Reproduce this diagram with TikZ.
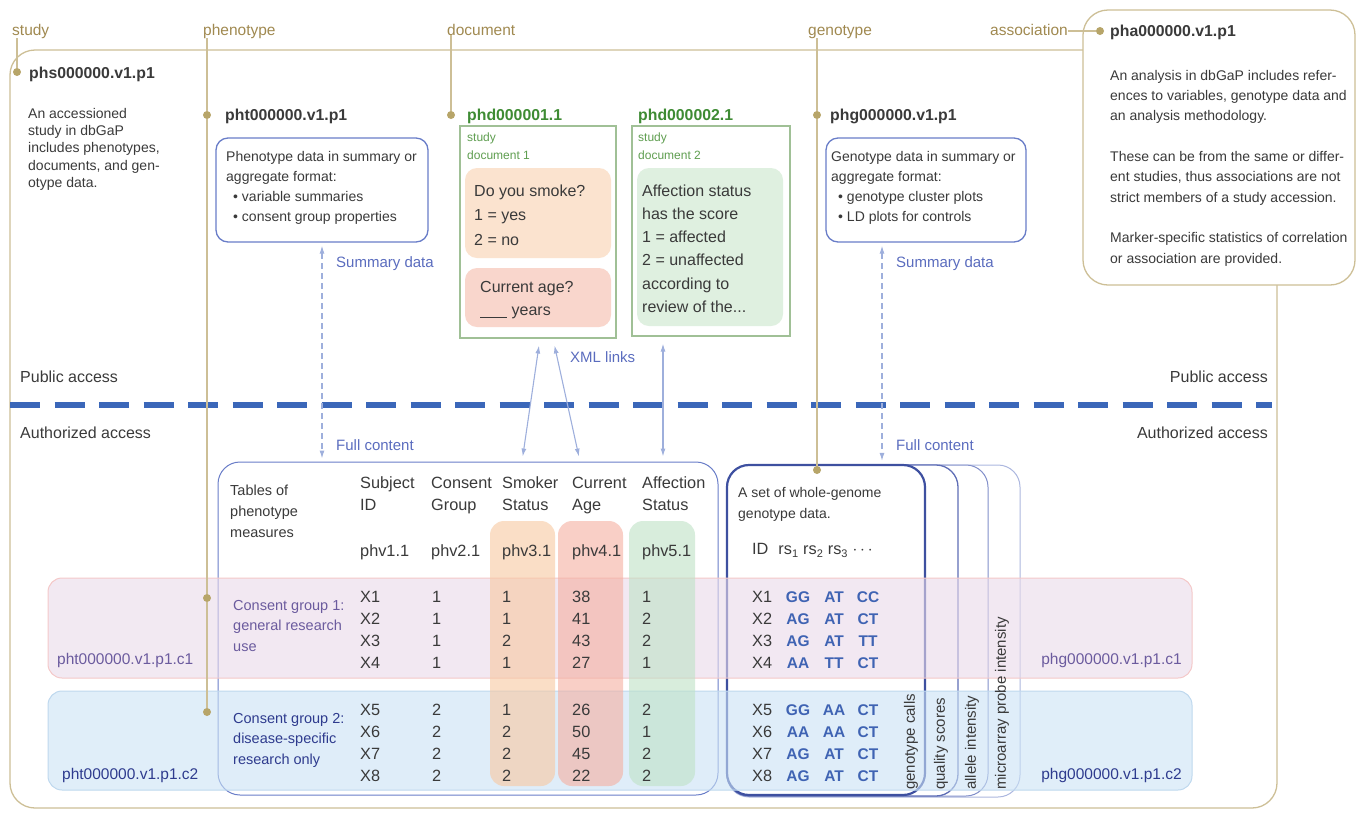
\documentclass[tikz,border=0pt]{standalone}
\usepackage{fontspec}
\setmainfont{Liberation Sans}
\usepackage{tikz}
\usetikzlibrary{shapes,arrows,fit,positioning,arrows.meta}
\usetikzlibrary{backgrounds}

\definecolor{goldline}{RGB}{205,191,150}
\definecolor{golddot}{RGB}{183,165,105}
\definecolor{goldtext}{RGB}{160,137,80}
\definecolor{bodytext}{RGB}{58,58,58}
\definecolor{boxblue}{RGB}{105,125,200}
\definecolor{arrowblue}{RGB}{158,175,220}
\definecolor{labelblue}{RGB}{90,108,190}
\definecolor{sepblue}{RGB}{59,103,185}
\definecolor{docgreen}{RGB}{160,192,150}
\definecolor{docid}{RGB}{62,139,51}
\definecolor{docnote}{RGB}{95,158,80}
\definecolor{smokefill}{RGB}{251,227,207}
\definecolor{agefill}{RGB}{249,214,204}
\definecolor{afffill}{RGB}{223,240,224}
\definecolor{cg1fill}{RGB}{234,218,234}
\definecolor{cg1line}{RGB}{244,200,200}
\definecolor{cg2fill}{RGB}{203,226,245}
\definecolor{cg2line}{RGB}{190,216,238}
\definecolor{cg1text}{RGB}{107,91,158}
\definecolor{cg2text}{RGB}{46,59,142}
\definecolor{smokeband}{RGB}{248,200,160}
\definecolor{ageband}{RGB}{245,175,160}
\definecolor{affband}{RGB}{190,226,198}
\definecolor{genoblue}{RGB}{63,99,179}
\definecolor{callsline}{RGB}{62,80,160}
\definecolor{qualline}{RGB}{95,110,182}
\definecolor{alleleline}{RGB}{130,143,202}
\definecolor{probeline}{RGB}{172,183,223}

\begin{document}
\begin{tikzpicture}[x=1pt, y=-1pt]
	\tikzstyle{frame_style}=[rectangle, draw=goldline, line width=1.3pt, rounded corners=25pt]
	\tikzstyle{label_style}=[font=\fontsize{15.5}{18}\selectfont, text=goldtext, anchor=base west, inner sep=0pt]
	\tikzstyle{id_style}=[font=\fontsize{15.8}{18}\selectfont\bfseries, text=bodytext, anchor=base west, inner sep=0pt]
	\tikzstyle{text_style}=[font=\fontsize{14}{17.4}\selectfont, text=bodytext, anchor=base west, align=left, inner sep=0pt]
	\tikzstyle{dot_style}=[circle, fill=golddot, inner sep=0pt, minimum size=8pt]
	\tikzstyle{gold_line}=[draw=goldline, line width=1.3pt]
	\tikzstyle{summary_style}=[rectangle, draw=boxblue, line width=1.3pt, rounded corners=12pt, fill=white]
	\tikzstyle{doc_style}=[rectangle, draw=docgreen, line width=1.2pt, fill=white]
	\tikzstyle{qbox_style}=[rectangle, rounded corners=12pt, minimum width=146pt]
	\tikzstyle{doc_text_style}=[font=\fontsize{16}{23.6}\selectfont, text=bodytext, anchor=base west, align=left, inner sep=0pt]
	\tikzstyle{doc_note_style}=[font=\fontsize{12}{18}\selectfont, text=docnote, anchor=base west, align=left, inner sep=0pt]
	\tikzstyle{table_style}=[rectangle, draw=boxblue, line width=1pt, rounded corners=22pt, fill=white]
	\tikzstyle{band_style}=[rectangle, rounded corners=14pt, fill opacity=0.6, line width=1pt]
	\tikzstyle{cell_style}=[font=\fontsize{16.3}{22.6}\selectfont, text=bodytext, anchor=base west, align=left, inner sep=0pt]
	\tikzstyle{geno_style}=[font=\fontsize{15.5}{18}\selectfont\bfseries, text=genoblue, anchor=base, inner sep=0pt]
	\tikzstyle{blue_label}=[font=\fontsize{15}{18}\selectfont, text=labelblue, anchor=base west, inner sep=0pt]
	\tikzstyle{access_style}=[font=\fontsize{16}{18}\selectfont, text=bodytext, inner sep=0pt]
	\tikzstyle{vert_style}=[font=\fontsize{15}{18}\selectfont, text=bodytext, rotate=90, anchor=west, inner sep=0pt]
	\tikzstyle{link_style}=[draw=arrowblue, line width=1.1pt, {Latex[length=8pt,width=5pt]}-{Latex[length=8pt,width=5pt]}]
	\tikzstyle{dash_link_style}=[link_style, dash pattern=on 6pt off 4pt]
	\tikzstyle{sep_style}=[draw=sepblue, line width=6.5pt, dash pattern=on 30pt off 14.5pt]

	\useasboundingbox (0,0) rectangle (1358,815);

	% study frame and association
	\node at (643.5,429) [frame_style, minimum width=1267pt, minimum height=758pt] (study_frame) {};
	\node at (1219,147.5) [frame_style, fill=white, minimum width=272pt, minimum height=275pt] (assoc_box) {};

	% public / authorized
	\draw[sep_style] (10,405) -- (1272,405);

	% summary boxes
	\node at (322,190) [summary_style, minimum width=212pt, minimum height=104pt] (pht_box) {};
	\node at (926,190) [summary_style, minimum width=200pt, minimum height=104pt] (phg_box) {};

	% documents
	\node at (538,232) [doc_style, minimum width=156pt, minimum height=212pt] (doc_1) {};
	\node at (711,231) [doc_style, minimum width=158pt, minimum height=210pt] (doc_2) {};
	\node at (538,213) [qbox_style, fill=smokefill, minimum height=90pt] (smoke_box) {};
	\node at (538,297.5) [qbox_style, fill=agefill, minimum height=59pt] (age_box) {};
	\node at (710,247) [qbox_style, fill=afffill, minimum height=158pt] (aff_box) {};

	% tables
	\node at (468,628.5) [table_style, minimum width=500pt, minimum height=333pt] (tab_box) {};
	\node at (873.5,631) [table_style, draw=probeline, minimum width=293pt, minimum height=332pt] (geno_probe) {};
	\node at (857.5,630.5) [table_style, draw=alleleline, minimum width=261pt, minimum height=331pt] (geno_allele) {};
	\node at (842.5,630.5) [table_style, draw=qualline, line width=1.3pt, minimum width=231pt, minimum height=331pt] (geno_quality) {};
	\node at (826,630) [table_style, draw=callsline, line width=2.2pt, minimum width=198pt, minimum height=330pt] (geno_calls) {};

	% consent groups and variables
	\node at (620,628) [band_style, fill=cg1fill, draw=cg1line, minimum width=1144pt, minimum height=100pt] (band_c1) {};
	\node at (620,740.5) [band_style, fill=cg2fill, draw=cg2line, minimum width=1144pt, minimum height=99pt] (band_c2) {};
	\node at (522.5,653.5) [band_style, fill=smokeband, minimum width=65pt, minimum height=265pt] (band_smoke) {};
	\node at (590.5,653.5) [band_style, fill=ageband, minimum width=65pt, minimum height=265pt] (band_age) {};
	\node at (662,653.5) [band_style, fill=affband, minimum width=66pt, minimum height=265pt] (band_aff) {};

	% dots
	\node at (17,72) [dot_style] (dot_phs) {};
	\node at (207,115) [dot_style] (dot_pht) {};
	\node at (207,598) [dot_style] (dot_pht_c1) {};
	\node at (207,712) [dot_style] (dot_pht_c2) {};
	\node at (451,115) [dot_style] (dot_phd) {};
	\node at (817,115) [dot_style] (dot_phg) {};
	\node at (817,470) [dot_style] (dot_phg_geno) {};
	\node at (1100,31) [dot_style] (dot_pha) {};

	% accession types
	\node at (12,35) [label_style] (lbl_study) {study};
	\node at (203,35) [label_style] (lbl_phenotype) {phenotype};
	\node at (447,35) [label_style] (lbl_document) {document};
	\node at (808,35) [label_style] (lbl_genotype) {genotype};
	\node at (990,35) [label_style] (lbl_association) {association};

	\draw[gold_line] (lbl_study.south -| dot_phs) -- (dot_phs);
	\draw[gold_line] (lbl_phenotype.south -| dot_pht) -- (dot_pht) -- (dot_pht_c1) -- (dot_pht_c2);
	\draw[gold_line] (lbl_document.south -| dot_phd) -- (dot_phd);
	\draw[gold_line] (lbl_genotype.south -| dot_phg) -- (dot_phg) -- (dot_phg_geno);
	\draw[gold_line] (dot_pha -| lbl_association.east) -- (dot_pha);

	% study (multi-line nodes sit on their last baseline)
	\node at (29,78) [id_style] (id_phs) {phs000000.v1.p1};
	\node at (28,187.6) [text_style] (phs_text) {An accessioned\\study in dbGaP\\includes phenotypes,\\documents, and gen-\\otype data.};

	% phenotype
	\node at (225,120) [id_style] (id_pht) {pht000000.v1.p1};
	\node at (226,221) [text_style, font=\fontsize{14}{20}\selectfont] (pht_text) {Phenotype data in summary or\\aggregate format:\\\hspace*{7pt}\textbullet\ variable summaries\\\hspace*{7pt}\textbullet\ consent group properties};

	% documents
	\node at (467,120) [id_style, text=docid] (id_phd_1) {phd000001.1};
	\node at (638,120) [id_style, text=docid] (id_phd_2) {phd000002.1};
	\node at (467,159) [doc_note_style] (doc_1_note) {study\\document 1};
	\node at (638,159) [doc_note_style] (doc_2_note) {study\\document 2};
	\node at (474,245) [doc_text_style, font=\fontsize{16}{24.5}\selectfont] (smoke_text) {Do you smoke?\\1 = yes\\2 = no};
	\node at (480,315.6) [doc_text_style] (age_text) {Current age?\\\rule[-2pt]{27pt}{0.7pt} years};
	\node at (642,312.5) [doc_text_style, font=\fontsize{16}{23.3}\selectfont] (aff_text) {Affection status\\has the score\\1 = affected\\2 = unaffected\\according to\\review of the...};

	% genotype
	\node at (830,120) [id_style] (id_phg) {phg000000.v1.p1};
	\node at (831,221) [text_style, font=\fontsize{14}{20}\selectfont] (phg_text) {Genotype data in summary or\\aggregate format:\\\hspace*{7pt}\textbullet\ genotype cluster plots\\\hspace*{7pt}\textbullet\ LD plots for controls};

	% association
	\node at (1110,36) [id_style] (id_pha) {pha000000.v1.p1};
	\node at (1110,263) [text_style, font=\fontsize{14}{20.3}\selectfont] (pha_text) {An analysis in dbGaP includes refer-\\ences to variables, genotype data and\\an analysis methodology.\\[20.3pt]These can be from the same or differ-\\ent studies, thus associations are not\\strict members of a study accession.\\[20.3pt]Marker-specific statistics of correlation\\or association are provided.};

	% access
	\node at (20,382) [access_style, anchor=base west] (public_l) {Public access};
	\node at (1268,382) [access_style, anchor=base east] (public_r) {Public access};
	\node at (20,438) [access_style, anchor=base west] (auth_l) {Authorized access};
	\node at (1268,438) [access_style, anchor=base east] (auth_r) {Authorized access};

	% phenotype table
	\node at (230,537) [text_style, font=\fontsize{14.5}{21}\selectfont] (tab_title) {Tables of\\phenotype\\measures};
	\foreach \x/\name/\head/\var in {360/subj/{Subject\\ID}/phv1.1, 431/cons/{Consent\\Group}/phv2.1, 502/smoke/{Smoker\\Status}/phv3.1, 572/age/{Current\\Age}/phv4.1, 642/aff/{Affection\\Status}/phv5.1} {
		\node at (\x,510.6) [cell_style] (head_\name) {\head};
		\node at (\x,556) [cell_style] (var_\name) {\var};
	}
	\foreach \y/\id/\cg/\sm/\ag/\af in {602/X1/1/1/38/1, 624/X2/1/1/41/2, 646/X3/1/2/43/2, 668/X4/1/1/27/1, 715/X5/2/1/26/2, 737/X6/2/2/50/1, 759/X7/2/2/45/2, 781/X8/2/2/22/2} {
		\node at (360,\y) [cell_style] (cell_\id_subj) {\id};
		\node at (432,\y) [cell_style] (cell_\id_cons) {\cg};
		\node at (502,\y) [cell_style] (cell_\id_smoke) {\sm};
		\node at (572,\y) [cell_style] (cell_\id_age) {\ag};
		\node at (642,\y) [cell_style] (cell_\id_aff) {\af};
	}
	\node at (233,651) [text_style, font=\fontsize{14.5}{20.5}\selectfont, text=cg1text] (cg1_text) {Consent group 1:\\general research\\use};
	\node at (233,764) [text_style, font=\fontsize{14.5}{20.5}\selectfont, text=cg2text] (cg2_text) {Consent group 2:\\disease-specific\\research only};
	\node at (57,664) [blue_label, font=\fontsize{15.5}{18}\selectfont, text=cg1text] (pht_c1) {pht000000.v1.p1.c1};
	\node at (62,779) [blue_label, font=\fontsize{15.5}{18}\selectfont, text=cg2text] (pht_c2) {pht000000.v1.p1.c2};

	% genotype table
	\node at (738,518) [text_style, font=\fontsize{14}{21}\selectfont] (geno_title) {A set of whole-genome\\genotype data.};
	\node at (752,554) [cell_style] (geno_head) {ID\hspace{10pt}rs\raisebox{-3pt}{\fontsize{11}{11}\selectfont 1}\hspace{5pt}rs\raisebox{-3pt}{\fontsize{11}{11}\selectfont 2}\hspace{5pt}rs\raisebox{-3pt}{\fontsize{11}{11}\selectfont 3}\hspace{5pt}$\cdots$};
	\foreach \y/\id/\a/\b/\c in {602/X1/GG/AT/CC, 624/X2/AG/AT/CT, 646/X3/AG/AT/TT, 668/X4/AA/TT/CT, 715/X5/GG/AA/CT, 737/X6/AA/AA/CT, 759/X7/AG/AT/CT, 781/X8/AG/AT/CT} {
		\node at (752,\y) [cell_style] (geno_\id) {\id};
		\node at (798,\y) [geno_style] (geno_\id_1) {\a};
		\node at (834,\y) [geno_style] (geno_\id_2) {\b};
		\node at (868,\y) [geno_style] (geno_\id_3) {\c};
	}
	\node at (911,790) [vert_style] (lbl_calls) {genotype calls};
	\node at (941,790) [vert_style] (lbl_quality) {quality scores};
	\node at (972,790) [vert_style] (lbl_allele) {allele intensity};
	\node at (1002,790) [vert_style] (lbl_probe) {microarray probe intensity};
	\node at (1182,664) [blue_label, font=\fontsize{15.5}{18}\selectfont, text=cg1text, anchor=base east] (phg_c1) {phg000000.v1.p1.c1};
	\node at (1182,779) [blue_label, font=\fontsize{15.5}{18}\selectfont, text=cg2text, anchor=base east] (phg_c2) {phg000000.v1.p1.c2};

	% links
	\draw[dash_link_style, shorten <=3pt, shorten >=3pt] (pht_box.south) -- (tab_box.north -| pht_box.south);
	\draw[dash_link_style, shorten <=3pt, shorten >=3pt] ([xshift=-44pt]phg_box.south) -- ([xshift=-44pt]phg_box.south |- geno_calls.north);
	\draw[link_style, shorten <=7pt, shorten >=5pt] ([xshift=2pt]doc_1.south) -- ([xshift=54pt]tab_box.north);
	\draw[link_style, shorten <=7pt, shorten >=5pt] ([xshift=15pt]doc_1.south) -- ([xshift=112pt]tab_box.north);
	\draw[link_style, shorten <=7pt, shorten >=5pt] ([xshift=-48pt]doc_2.south) -- ([xshift=195pt]tab_box.north);
	\node at (336,267) [blue_label] (lbl_sum_p) {Summary data};
	\node at (896,267) [blue_label] (lbl_sum_g) {Summary data};
	\node at (336,450) [blue_label] (lbl_full_p) {Full content};
	\node at (896,450) [blue_label] (lbl_full_g) {Full content};
	\node at (570,362) [blue_label] (lbl_xml) {XML links};

\end{tikzpicture}
\end{document}
